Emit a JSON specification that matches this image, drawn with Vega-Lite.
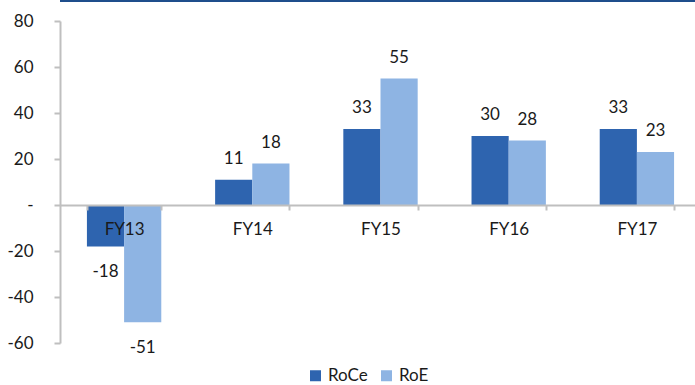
{
  "$schema": "https://vega.github.io/schema/vega-lite/v6.json",
  "width": 635,
  "height": 322,
  "autosize": {"type": "none"},
  "padding": {"left": 60, "top": 21, "right": 0, "bottom": 42},
  "background": "white",
  "config": {
    "view": {"stroke": null},
    "font": "Lato",
    "axis": {"labelFont": "Lato", "labelFontSize": 17, "labelColor": "#1a1a1a", "grid": false, "domainColor": "#BFBFBF", "tickColor": "#BFBFBF", "domainWidth": 2, "tickWidth": 2},
    "legend": {"labelFont": "Lato", "labelFontSize": 17, "labelColor": "#1a1a1a"}
  },
  "data": {
    "values": [
      {"year": "FY13", "metric": "RoCe", "value": -18},
      {"year": "FY13", "metric": "RoE", "value": -51},
      {"year": "FY14", "metric": "RoCe", "value": 11},
      {"year": "FY14", "metric": "RoE", "value": 18},
      {"year": "FY15", "metric": "RoCe", "value": 33},
      {"year": "FY15", "metric": "RoE", "value": 55},
      {"year": "FY16", "metric": "RoCe", "value": 30},
      {"year": "FY16", "metric": "RoE", "value": 28},
      {"year": "FY17", "metric": "RoCe", "value": 33},
      {"year": "FY17", "metric": "RoE", "value": 23}
    ]
  },
  "encoding": {
    "y": {
      "field": "value", "type": "quantitative",
      "scale": {"domain": [-60, 80], "nice": false, "zero": false},
      "axis": {"title": null, "values": [-60, -40, -20, 0, 20, 40, 60, 80], "tickSize": 6, "labelPadding": 21, "labelExpr": "datum.value == 0 ? '-' : '' + datum.value", "zindex": 1}
    }
  },
  "layer": [
    {
      "mark": {"type": "bar"},
      "encoding": {
        "x": {
          "field": "year", "type": "nominal",
          "scale": {"range": [0, 641], "paddingInner": 0.42, "paddingOuter": 0.21},
          "axis": {"title": null, "labelAngle": 0, "offset": -138, "tickBand": "extent", "tickSize": 5, "labelPadding": 11, "labelBaseline": "top", "zindex": 1}
        },
        "xOffset": {"field": "metric", "type": "nominal", "sort": ["RoCe", "RoE"], "scale": {"paddingInner": 0, "paddingOuter": 0}},
        "color": {
          "field": "metric", "type": "nominal",
          "scale": {"domain": ["RoCe", "RoE"], "range": ["#2E64AF", "#8EB4E3"]},
          "legend": {"title": null, "orient": "none", "direction": "horizontal", "legendX": 247, "legendY": 346, "symbolType": "square", "symbolSize": 121, "symbolStrokeWidth": 0, "labelOffset": 4, "columnPadding": 10}
        }
      }
    },
    {
      "transform": [{"filter": "datum.value >= 0"}],
      "mark": {"type": "text", "baseline": "alphabetic", "dy": -16, "fontSize": 17, "color": "#1a1a1a"},
      "encoding": {
        "x": {"field": "year", "type": "nominal"},
        "xOffset": {"field": "metric", "type": "nominal", "sort": ["RoCe", "RoE"]},
        "text": {"field": "value", "type": "nominal"}
      }
    },
    {
      "transform": [{"filter": "datum.value < 0"}],
      "mark": {"type": "text", "baseline": "top", "dy": 18, "fontSize": 17, "color": "#1a1a1a"},
      "encoding": {
        "x": {"field": "year", "type": "nominal"},
        "xOffset": {"field": "metric", "type": "nominal", "sort": ["RoCe", "RoE"]},
        "text": {"field": "value", "type": "nominal"}
      }
    },
    {
      "mark": {"type": "rule", "color": "#1F4E8C", "strokeWidth": 2},
      "encoding": {"y": {"datum": 88.8}}
    }
  ]
}
